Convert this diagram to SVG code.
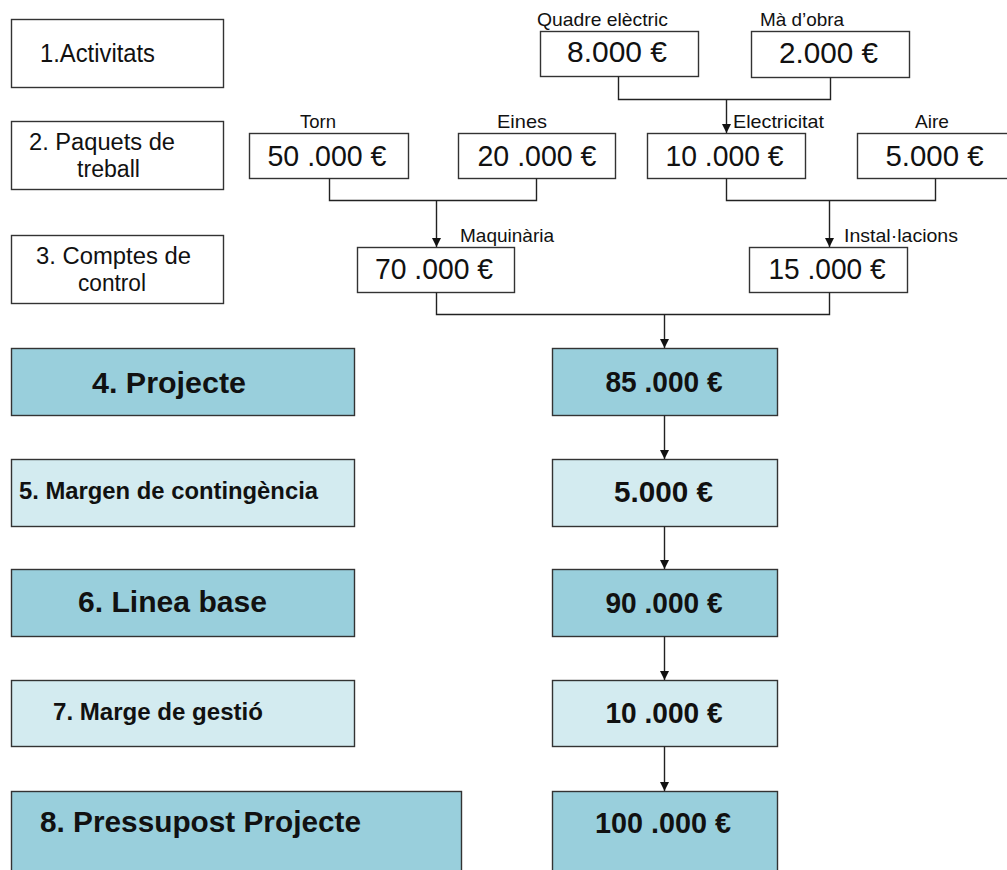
<svg xmlns="http://www.w3.org/2000/svg" width="1007" height="870" viewBox="0 0 1007 870">
  <style>
    .box { fill: #ffffff; stroke: #333333; stroke-width: 1.4; }
    .dark { fill: #99CFDC; stroke: #333333; stroke-width: 1.4; }
    .light { fill: #D3EBF0; stroke: #333333; stroke-width: 1.4; }
    .lbl { font-family: "Liberation Sans", Arial, sans-serif; font-size: 25px; fill: #111111; }
    .lbl2 { font-family: "Liberation Sans", Arial, sans-serif; font-size: 23.5px; fill: #111111; }
    .cap { font-family: "Liberation Sans", Arial, sans-serif; font-size: 19px; fill: #111111; }
    .val { font-family: "Liberation Sans", Arial, sans-serif; font-size: 30px; fill: #111111; text-anchor: middle; }
    .bold { font-family: "Liberation Sans", Arial, sans-serif; font-weight: bold; fill: #111111; }
    .bval { font-family: "Liberation Sans", Arial, sans-serif; font-weight: bold; font-size: 29px; fill: #111111; text-anchor: middle; }
    .wire { fill: none; stroke: #222222; stroke-width: 1.4; }
  </style>
  <defs>
    <marker id="tip" markerUnits="userSpaceOnUse" markerWidth="10" markerHeight="10" viewBox="0 0 10 10" refX="5" refY="10" orient="0">
      <path d="M0.5,1 L9.5,1 L5,10 Z" fill="#111111"/>
    </marker>
  </defs>

  <!-- level labels, left column -->
  <g id="level-1">
    <rect class="box" x="11.5" y="19.5" width="212" height="68"/>
    <text class="lbl" x="40" y="62" textLength="115" lengthAdjust="spacingAndGlyphs">1.Activitats</text>
  </g>
  <g id="level-2">
    <rect class="box" x="11.5" y="121.5" width="212" height="68"/>
    <text class="lbl2" x="29" y="150" textLength="146" lengthAdjust="spacingAndGlyphs">2. Paquets de</text>
    <text class="lbl2" x="77" y="177" textLength="63" lengthAdjust="spacingAndGlyphs">treball</text>
  </g>
  <g id="level-3">
    <rect class="box" x="11.5" y="235.5" width="212" height="68"/>
    <text class="lbl2" x="36" y="264" textLength="155" lengthAdjust="spacingAndGlyphs">3. Comptes de</text>
    <text class="lbl2" x="78" y="291" textLength="68" lengthAdjust="spacingAndGlyphs">control</text>
  </g>
  <g id="level-4">
    <rect class="dark" x="11.5" y="348.5" width="343" height="67"/>
    <text class="bold" x="92" y="393" font-size="29" textLength="154" lengthAdjust="spacingAndGlyphs">4. Projecte</text>
  </g>
  <g id="level-5">
    <rect class="light" x="11.5" y="459.5" width="343" height="67"/>
    <text class="bold" x="19" y="499" font-size="24" textLength="299" lengthAdjust="spacingAndGlyphs">5. Margen de contingència</text>
  </g>
  <g id="level-6">
    <rect class="dark" x="11.5" y="569.5" width="343" height="67"/>
    <text class="bold" x="78" y="612" font-size="29" textLength="189" lengthAdjust="spacingAndGlyphs">6. Linea base</text>
  </g>
  <g id="level-7">
    <rect class="light" x="11.5" y="680.5" width="343" height="66"/>
    <text class="bold" x="53" y="720" font-size="24" textLength="210" lengthAdjust="spacingAndGlyphs">7.  Marge de gestió</text>
  </g>
  <g id="level-8">
    <rect class="dark" x="11.5" y="791.5" width="450" height="90"/>
    <text class="bold" x="40" y="832" font-size="29" textLength="321" lengthAdjust="spacingAndGlyphs">8. Pressupost Projecte</text>
  </g>

  <!-- activities -->
  <g id="quadre-electric">
    <text class="cap" x="537" y="26" textLength="131" lengthAdjust="spacingAndGlyphs">Quadre elèctric</text>
    <rect class="box" x="540.5" y="31.5" width="158" height="45"/>
    <text class="val" x="617" y="62" textLength="100" lengthAdjust="spacingAndGlyphs">8.000 €</text>
  </g>
  <g id="ma-obra">
    <text class="cap" x="760" y="26" textLength="84" lengthAdjust="spacingAndGlyphs">Mà d’obra</text>
    <rect class="box" x="751.5" y="31.5" width="158" height="46"/>
    <text class="val" x="828.5" y="63" textLength="99" lengthAdjust="spacingAndGlyphs">2.000 €</text>
  </g>

  <!-- work packages -->
  <g id="torn">
    <text class="cap" x="300" y="128" textLength="36" lengthAdjust="spacingAndGlyphs">Torn</text>
    <rect class="box" x="249.5" y="133.5" width="159" height="45"/>
    <text class="val" x="327" y="166" textLength="119" lengthAdjust="spacingAndGlyphs">50 .000 €</text>
  </g>
  <g id="eines">
    <text class="cap" x="497" y="128" textLength="50" lengthAdjust="spacingAndGlyphs">Eines</text>
    <rect class="box" x="458.5" y="133.5" width="157" height="45"/>
    <text class="val" x="537" y="166" textLength="119" lengthAdjust="spacingAndGlyphs">20 .000 €</text>
  </g>
  <g id="electricitat">
    <text class="cap" x="733" y="128" textLength="91" lengthAdjust="spacingAndGlyphs">Electricitat</text>
    <rect class="box" x="647.5" y="133.5" width="158" height="45"/>
    <text class="val" x="724.5" y="166" textLength="118" lengthAdjust="spacingAndGlyphs">10 .000 €</text>
  </g>
  <g id="aire">
    <text class="cap" x="915" y="128" textLength="34" lengthAdjust="spacingAndGlyphs">Aire</text>
    <rect class="box" x="857.5" y="133.5" width="160" height="45"/>
    <text class="val" x="934.5" y="166" textLength="98" lengthAdjust="spacingAndGlyphs">5.000 €</text>
  </g>

  <!-- control accounts -->
  <g id="maquinaria">
    <text class="cap" x="460" y="242" textLength="94" lengthAdjust="spacingAndGlyphs">Maquinària</text>
    <rect class="box" x="357.5" y="247.5" width="157" height="45"/>
    <text class="val" x="434" y="279" textLength="118" lengthAdjust="spacingAndGlyphs">70 .000 €</text>
  </g>
  <g id="instal-lacions">
    <text class="cap" x="844" y="242" textLength="114" lengthAdjust="spacingAndGlyphs">Instal·lacions</text>
    <rect class="box" x="749.5" y="247.5" width="158" height="45"/>
    <text class="val" x="827" y="279" textLength="117" lengthAdjust="spacingAndGlyphs">15 .000 €</text>
  </g>

  <!-- project totals, right column -->
  <g id="projecte">
    <rect class="dark" x="552.5" y="348.5" width="225" height="67"/>
    <text class="bval" x="664" y="392" textLength="117" lengthAdjust="spacingAndGlyphs">85 .000 €</text>
  </g>
  <g id="contingencia">
    <rect class="light" x="552.5" y="459.5" width="225" height="67"/>
    <text class="bval" x="663.5" y="502" textLength="99" lengthAdjust="spacingAndGlyphs">5.000 €</text>
  </g>
  <g id="linea-base">
    <rect class="dark" x="552.5" y="569.5" width="225" height="67"/>
    <text class="bval" x="664" y="613" textLength="117" lengthAdjust="spacingAndGlyphs">90 .000 €</text>
  </g>
  <g id="gestio">
    <rect class="light" x="552.5" y="680.5" width="225" height="66"/>
    <text class="bval" x="664" y="723" textLength="117" lengthAdjust="spacingAndGlyphs">10 .000 €</text>
  </g>
  <g id="pressupost">
    <rect class="dark" x="552.5" y="791.5" width="225" height="90"/>
    <text class="bval" x="663" y="833" textLength="136" lengthAdjust="spacingAndGlyphs">100 .000 €</text>
  </g>

  <!-- roll-up connectors -->
  <g id="connectors">
    <path class="wire" d="M618.5,76.5 V99.5 H830.5 V77.5"/>
    <path class="wire" d="M726.5,99.5 V133" marker-end="url(#tip)"/>
    <path class="wire" d="M329.5,178.5 V200.5 H536.5 V178.5"/>
    <path class="wire" d="M436.5,200.5 V247" marker-end="url(#tip)"/>
    <path class="wire" d="M726.5,178.5 V200.5 H935.5 V178.5"/>
    <path class="wire" d="M829.5,200.5 V247" marker-end="url(#tip)"/>
    <path class="wire" d="M436.5,292.5 V314.5 H829.5 V292.5"/>
    <path class="wire" d="M664.5,314.5 V348" marker-end="url(#tip)"/>
    <path class="wire" d="M664.5,415.5 V459" marker-end="url(#tip)"/>
    <path class="wire" d="M664.5,526.5 V569" marker-end="url(#tip)"/>
    <path class="wire" d="M664.5,636.5 V680" marker-end="url(#tip)"/>
    <path class="wire" d="M664.5,746.5 V791" marker-end="url(#tip)"/>
  </g>
</svg>
